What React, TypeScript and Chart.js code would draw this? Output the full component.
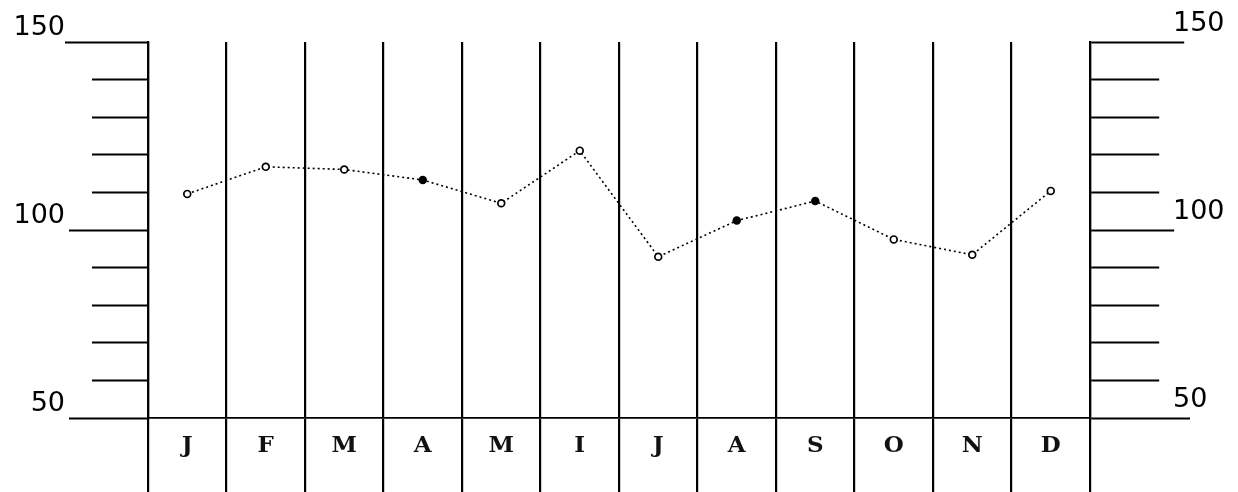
import React, { useEffect, useRef } from "react";
import { Chart, registerables } from "chart.js";

Chart.register(...registerables);

const months = ["J", "F", "M", "A", "M", "I", "J", "A", "S", "O", "N", "D"];
const values = [109.6, 116.8, 116.1, 113.3, 107.1, 121.1, 92.9, 102.5, 107.7, 97.5, 93.4, 110.4];
const labeledTicks = [50, 100, 150];
const yMin = 50;
const yMax = 150;
const yStep = 10;
const filledPoints = [false, false, false, true, false, false, false, true, true, false, false, false];

const LEFT_MAX = 83;
const leftTickLen = (v: number) => (v === 150 ? 83 : v === 100 || v === 50 ? 79 : 56);
const rightTickLen = (v: number) => (v === 150 ? 93 : v === 100 ? 83 : v === 50 ? 100 : 68);

export default function App() {
  const ref = useRef<HTMLCanvasElement>(null);

  useEffect(() => {
    if (!ref.current) return;
    const labelCb = (lines: number) => (v: any) =>
      labeledTicks.includes(Number(v)) ? [String(v), ...Array(lines - 1).fill("")] : "";
    const chart = new Chart(ref.current, {
      type: "line",
      data: {
        labels: months,
        datasets: [
          {
            data: values,
            borderColor: "#000",
            borderWidth: 1.6,
            borderDash: [2, 3],
            pointRadius: 3.4,
            pointBorderWidth: 1.7,
            pointBorderColor: "#000",
            pointBackgroundColor: filledPoints.map((f) => (f ? "#000" : "#fff")),
            tension: 0,
            yAxisID: "y",
          },
        ],
      },
      options: {
        responsive: false,
        animation: false,
        layout: { padding: { top: 42, left: 0, right: 0, bottom: 0 } },
        plugins: { legend: { display: false }, tooltip: { enabled: false } },
        scales: {
          x: {
            type: "category",
            offset: true,
            grid: {
              offset: true,
              color: "#000",
              lineWidth: 2.2,
              drawTicks: true,
              tickLength: 74,
              tickColor: "#000",
              tickWidth: 2.2,
            },
            border: { display: true, color: "#000", width: 1.8 },
            ticks: {
              color: "#111",
              padding: -60,
              maxRotation: 0,
              autoSkip: false,
              font: { family: "'DejaVu Serif'", size: 23, weight: "bold" },
            },
            afterFit: (s: any) => {
              s.height = 74;
            },
          },
          y: {
            position: "left",
            min: yMin,
            max: yMax,
            grid: {
              drawOnChartArea: false,
              drawTicks: true,
              tickLength: LEFT_MAX,
              tickColor: "#000",
              tickWidth: 1.8,
              tickBorderDash: (ctx: any) => {
                const len = leftTickLen(ctx.tick ? ctx.tick.value : 0);
                return [0, LEFT_MAX - len, len, 400];
              },
            },
            border: { display: true, color: "#000", width: 2.2 },
            ticks: {
              stepSize: yStep,
              autoSkip: false,
              padding: 0,
              color: "#000",
              font: { family: "'DejaVu Sans'", size: 27, lineHeight: "14px" },
              callback: labelCb(3),
            },
            afterFit: (s: any) => {
              s.width = 148;
            },
          },
          y2: {
            position: "right",
            min: yMin,
            max: yMax,
            grid: {
              drawOnChartArea: false,
              drawTicks: true,
              tickLength: 100,
              tickColor: "#000",
              tickWidth: 1.8,
              tickBorderDash: (ctx: any) => [rightTickLen(ctx.tick ? ctx.tick.value : 0), 400],
            },
            border: { display: true, color: "#000", width: 2.2 },
            ticks: {
              stepSize: yStep,
              autoSkip: false,
              padding: -17,
              color: "#000",
              font: { family: "'DejaVu Sans'", size: 27, lineHeight: "18px" },
              callback: labelCb(3),
            },
            afterFit: (s: any) => {
              s.width = 148;
            },
          },
        },
      },
    });
    return () => chart.destroy();
  }, []);

  return (
    <div style={{ position: "absolute", left: 0, top: 0, width: 1238, height: 492, background: "#fff" }}>
      <canvas ref={ref} width={1238} height={492} style={{ display: "block" }} />
    </div>
  );
}
